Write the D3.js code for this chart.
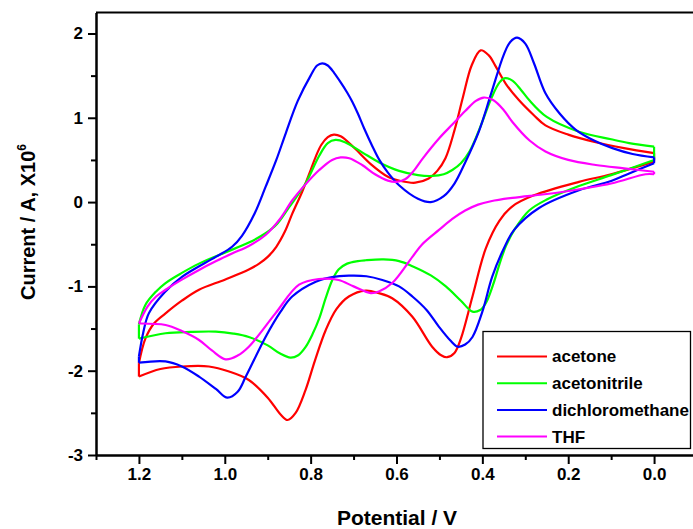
<!DOCTYPE html>
<html>
<head>
<meta charset="utf-8">
<script src="https://cdn.jsdelivr.net/npm/d3@7"></script>
<style>
  html, body { margin: 0; padding: 0; background: #fff; }
  svg { display: block; font-family: "Liberation Sans", Arial, sans-serif; }
</style>
</head>
<body>
<svg id="chart" width="693" height="529"></svg>
<script>
// ---------- DATA (potential V, current A x10^6) ----------
const seriesNames = ["acetone", "acetonitrile", "dichloromethane", "THF"];
const seriesColors = ["#ff0000", "#00ff00", "#0000ff", "#ff00ff"];

const xMajorTicks = [1.2, 1.0, 0.8, 0.6, 0.4, 0.2, 0.0];
const xMinorTicks = [1.3, 1.1, 0.9, 0.7, 0.5, 0.3, 0.1, -0.1];
const yMajorTicks = [-3, -2, -1, 0, 1, 2];
const yMinorTicks = [-2.5, -1.5, -0.5, 0.5, 1.5];

const acetoneUpper = [
  [1.2,-1.91],[1.185,-1.62],[1.165,-1.44],[1.138,-1.32],[1.10,-1.17],[1.06,-1.04],[1.0,-0.92],
  [0.944,-0.80],[0.92,-0.73],[0.90,-0.65],[0.88,-0.53],[0.86,-0.35],[0.843,-0.14],[0.82,0.12],
  [0.80,0.38],[0.788,0.54],[0.775,0.68],[0.76,0.77],[0.746,0.80],[0.73,0.78],[0.70,0.65],
  [0.66,0.45],[0.62,0.30],[0.59,0.25],[0.556,0.23],[0.525,0.28],[0.505,0.37],[0.486,0.52],
  [0.465,0.85],[0.445,1.25],[0.425,1.62],[0.404,1.80],[0.385,1.74],[0.369,1.61],[0.345,1.40],
  [0.315,1.21],[0.28,1.03],[0.253,0.91],[0.20,0.80],[0.136,0.71],[0.07,0.64],[0.0,0.58]
];
const acetoneLower = [
  [1.2,-2.07],[1.15,-1.98],[1.099,-1.95],[1.037,-1.95],[0.99,-2.01],[0.944,-2.11],[0.90,-2.32],
  [0.87,-2.52],[0.854,-2.585],[0.835,-2.50],[0.812,-2.23],[0.79,-1.88],[0.765,-1.52],[0.74,-1.27],
  [0.711,-1.12],[0.672,-1.05],[0.641,-1.08],[0.61,-1.14],[0.563,-1.36],[0.517,-1.715],[0.495,-1.82],
  [0.482,-1.84],[0.465,-1.79],[0.45,-1.62],[0.423,-1.12],[0.392,-0.55],[0.36,-0.22],[0.33,-0.05],
  [0.28,0.08],[0.175,0.24],[0.10,0.33],[0.0,0.48]
];

const acetonitrileUpper = [
  [1.2,-1.45],[1.185,-1.22],[1.16,-1.06],[1.138,-0.96],[1.10,-0.84],[1.06,-0.73],[1.0,-0.60],
  [0.944,-0.48],[0.905,-0.37],[0.88,-0.27],[0.85,-0.06],[0.812,0.22],[0.78,0.55],[0.76,0.70],
  [0.742,0.737],[0.72,0.71],[0.68,0.59],[0.64,0.47],[0.594,0.37],[0.55,0.32],[0.517,0.31],
  [0.49,0.33],[0.47,0.38],[0.45,0.46],[0.43,0.60],[0.408,0.85],[0.38,1.22],[0.36,1.42],[0.347,1.47],
  [0.33,1.44],[0.31,1.33],[0.291,1.21],[0.25,1.01],[0.175,0.835],[0.10,0.745],[0.058,0.70],[0.0,0.657]
];
const acetonitrileLower = [
  [1.2,-1.62],[1.138,-1.556],[1.08,-1.54],[1.021,-1.537],[0.98,-1.56],[0.944,-1.60],[0.90,-1.70],
  [0.87,-1.80],[0.847,-1.845],[0.83,-1.82],[0.812,-1.72],[0.795,-1.56],[0.78,-1.38],[0.765,-1.14],
  [0.75,-0.93],[0.735,-0.80],[0.715,-0.73],[0.69,-0.70],[0.672,-0.69],[0.63,-0.68],[0.594,-0.70],
  [0.563,-0.76],[0.52,-0.87],[0.485,-1.0],[0.45,-1.17],[0.423,-1.30],[0.405,-1.28],[0.392,-1.20],
  [0.375,-0.98],[0.361,-0.75],[0.345,-0.52],[0.323,-0.31],[0.291,-0.10],[0.25,0.03],[0.175,0.19],
  [0.10,0.32],[0.0,0.50]
];

const dichloromethaneUpper = [
  [1.2,-1.83],[1.19,-1.55],[1.177,-1.32],[1.14,-1.07],[1.099,-0.885],[1.021,-0.65],[0.983,-0.53],
  [0.96,-0.40],[0.93,-0.13],[0.905,0.18],[0.88,0.50],[0.858,0.816],[0.83,1.20],[0.80,1.50],
  [0.785,1.62],[0.773,1.646],[0.76,1.62],[0.745,1.53],[0.73,1.42],[0.715,1.30],[0.703,1.19],
  [0.69,1.05],[0.675,0.87],[0.656,0.66],[0.64,0.50],[0.62,0.35],[0.594,0.20],[0.55,0.04],
  [0.52,0.0],[0.49,0.07],[0.465,0.22],[0.44,0.47],[0.408,0.84],[0.38,1.28],[0.35,1.75],
  [0.335,1.90],[0.319,1.95],[0.30,1.88],[0.28,1.65],[0.253,1.29],[0.22,1.05],[0.183,0.86],
  [0.14,0.73],[0.097,0.64],[0.05,0.57],[0.0,0.53]
];
const dichloromethaneLower = [
  [1.2,-1.905],[1.138,-1.89],[1.10,-1.95],[1.06,-2.07],[1.02,-2.22],[0.994,-2.32],[0.97,-2.25],
  [0.951,-2.07],[0.905,-1.6],[0.87,-1.30],[0.843,-1.12],[0.788,-0.944],[0.75,-0.89],[0.711,-0.873],
  [0.67,-0.88],[0.633,-0.924],[0.594,-1.0],[0.563,-1.12],[0.53,-1.28],[0.501,-1.48],[0.475,-1.64],
  [0.458,-1.715],[0.44,-1.69],[0.423,-1.60],[0.40,-1.30],[0.377,-0.885],[0.35,-0.55],[0.326,-0.33],
  [0.268,-0.07],[0.175,0.14],[0.10,0.25],[0.058,0.34],[0.0,0.46]
];

const thfUpper = [
  [1.2,-1.44],[1.18,-1.24],[1.16,-1.12],[1.138,-1.04],[1.10,-0.92],[1.06,-0.805],[1.02,-0.70],
  [0.983,-0.61],[0.944,-0.52],[0.905,-0.39],[0.87,-0.19],[0.843,0.02],[0.812,0.21],[0.78,0.38],
  [0.75,0.50],[0.73,0.53],[0.71,0.52],[0.68,0.44],[0.65,0.33],[0.62,0.255],[0.60,0.24],
  [0.58,0.27],[0.56,0.37],[0.54,0.51],[0.50,0.76],[0.47,0.92],[0.44,1.08],[0.415,1.20],[0.397,1.24],
  [0.375,1.21],[0.35,1.09],[0.33,0.95],[0.29,0.73],[0.253,0.60],[0.20,0.50],[0.136,0.44],[0.07,0.40],[0.0,0.36]
];
const thfLower = [
  [1.2,-1.44],[1.138,-1.458],[1.10,-1.53],[1.06,-1.636],[1.03,-1.76],[0.998,-1.865],[0.97,-1.82],
  [0.944,-1.715],[0.882,-1.32],[0.827,-0.98],[0.781,-0.912],[0.735,-0.924],[0.70,-1.0],[0.66,-1.08],
  [0.641,-1.06],[0.61,-0.96],[0.563,-0.65],[0.54,-0.50],[0.501,-0.33],[0.47,-0.20],[0.44,-0.10],
  [0.41,-0.03],[0.38,0.01],[0.33,0.05],[0.26,0.09],[0.214,0.12],[0.10,0.22],[0.02,0.33],[0.0,0.33]
];

const upperBranches = [acetoneUpper, acetonitrileUpper, dichloromethaneUpper, thfUpper];
const lowerBranches = [acetoneLower, acetonitrileLower, dichloromethaneLower, thfLower];

// ---------- LAYOUT ----------
const svg = d3.select("#chart");
const x = d3.scaleLinear().domain([1.3, -0.1]).range([96, 697]);
const y = d3.scaleLinear().domain([-3, 2.25]).range([455, 12.4]);

const bold = "bold";

const lineCurve = d3.line().x(d => x(d[0])).y(d => y(d[1])).curve(d3.curveCatmullRom.alpha(0.5));
const lineStraight = d3.line().x(d => x(d[0])).y(d => y(d[1]));

const plot = svg.append("g");
seriesNames.forEach((name, i) => {
  const g = plot.append("g");
  const col = seriesColors[i];
  const up = upperBranches[i].slice().sort((a, b) => b[0] - a[0]);
  const lo = lowerBranches[i].slice().sort((a, b) => b[0] - a[0]);
  [lo, up].forEach(br => {
    g.append("path").attr("d", lineCurve(br))
      .attr("fill", "none").attr("stroke", col).attr("stroke-width", 2.2);
  });
  g.append("path").attr("d", lineStraight([lo[0], up[0]]))
    .attr("fill", "none").attr("stroke", col).attr("stroke-width", 2.2);
  g.append("path").attr("d", lineStraight([lo[lo.length - 1], up[up.length - 1]]))
    .attr("fill", "none").attr("stroke", col).attr("stroke-width", 2.2);
});

// frame top
svg.append("line").attr("x1", x(1.3)).attr("x2", x(-0.1)).attr("y1", y(2.25)).attr("y2", y(2.25))
  .attr("stroke", "#000").attr("stroke-width", 2);

// axes
const xAxisMajor = d3.axisBottom(x).tickValues(xMajorTicks).tickFormat(d3.format(".1f"))
  .tickSize(9).tickSizeOuter(0).tickPadding(4);
const xAxisMinor = d3.axisBottom(x).tickValues(xMinorTicks).tickFormat("").tickSize(5).tickSizeOuter(0);
const yAxisMajor = d3.axisLeft(y).tickValues(yMajorTicks).tickFormat(d => String(d))
  .tickSize(8).tickSizeOuter(0).tickPadding(5);
const yAxisMinor = d3.axisLeft(y).tickValues(yMinorTicks).tickFormat("").tickSize(5).tickSizeOuter(0);

function styleAxis(g) {
  g.select(".domain").attr("stroke-width", 2).attr("stroke", "#000");
  g.selectAll(".tick line").attr("stroke-width", 2).attr("stroke", "#000");
  g.selectAll(".tick text").attr("font-size", 17).attr("font-weight", bold)
    .attr("font-family", "Liberation Sans, Arial, sans-serif").attr("fill", "#000");
}
svg.append("g").attr("transform", `translate(0,${y(-3)})`).call(xAxisMinor).call(styleAxis);
svg.append("g").attr("transform", `translate(0,${y(-3)})`).call(xAxisMajor).call(styleAxis);
svg.append("g").attr("transform", `translate(${x(1.3)},0)`).call(yAxisMinor).call(styleAxis);
svg.append("g").attr("transform", `translate(${x(1.3)},0)`).call(yAxisMajor).call(styleAxis);

// axis titles
svg.append("text").attr("x", 397).attr("y", 525).attr("text-anchor", "middle")
  .attr("font-size", 21).attr("font-weight", bold).text("Potential / V");

const yt = svg.append("text").attr("transform", "translate(35,222) rotate(-90)")
  .attr("text-anchor", "middle").attr("font-size", 20).attr("font-weight", bold);
yt.append("tspan").text("Current / A, X10");
yt.append("tspan").attr("font-size", 12).attr("dy", -9).text("6");

// legend
const lg = svg.append("g");
lg.append("rect").attr("x", 483).attr("y", 331.5).attr("width", 207.5).attr("height", 117)
  .attr("fill", "#fff").attr("stroke", "#000").attr("stroke-width", 1.3);
seriesNames.forEach((name, i) => {
  const yy = 356.5 + i * 26.7;
  lg.append("line").attr("x1", 497).attr("x2", 547).attr("y1", yy).attr("y2", yy)
    .attr("stroke", seriesColors[i]).attr("stroke-width", 2);
  lg.append("text").attr("x", 552).attr("y", yy).attr("dy", "0.35em")
    .attr("font-size", 17).attr("font-weight", bold).text(name);
});
</script>
</body>
</html>
